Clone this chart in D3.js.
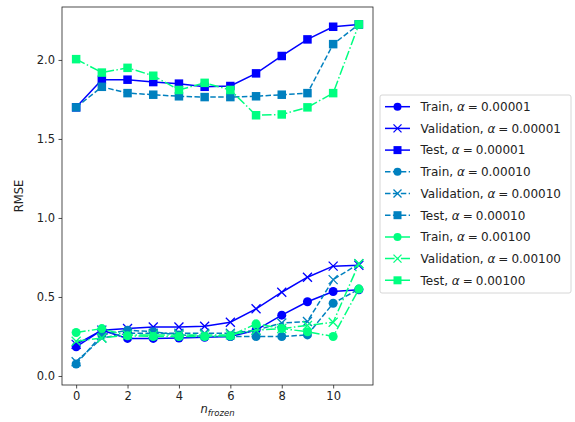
<!DOCTYPE html>
<html>
<head>
<meta charset="utf-8">
<script src="https://cdn.jsdelivr.net/npm/d3@7"></script>
<style>
  body { margin: 0; background: #fff; }
  svg { font-family: "DejaVu Sans", sans-serif; }
</style>
</head>
<body>
<svg id="chart" width="575" height="422"></svg>
<script>
const nFrozen = [0, 1, 2, 3, 4, 5, 6, 7, 8, 9, 10, 11]
const xTicks = [0, 2, 4, 6, 8, 10]
const yTicks = [0.0, 0.5, 1.0, 1.5, 2.0]

const alphas = ['0.00001', '0.00010', '0.00100']
const kinds = ['Train', 'Validation', 'Test']

// RMSE values
const train1 = [0.185, 0.29, 0.238, 0.238, 0.24, 0.245, 0.25, 0.29, 0.385, 0.47, 0.535, 0.545]
const val1 = [0.20, 0.29, 0.30, 0.31, 0.31, 0.315, 0.34, 0.425, 0.53, 0.625, 0.695, 0.70]
const test1 = [1.70, 1.875, 1.875, 1.86, 1.85, 1.83, 1.835, 1.915, 2.025, 2.13, 2.21, 2.225]
const train2 = [0.076, 0.26, 0.29, 0.28, 0.26, 0.25, 0.25, 0.25, 0.25, 0.26, 0.46, 0.55]
const val2 = [0.09, 0.24, 0.27, 0.27, 0.27, 0.27, 0.27, 0.29, 0.335, 0.345, 0.61, 0.71]
const test2 = [1.70, 1.83, 1.79, 1.78, 1.77, 1.765, 1.765, 1.77, 1.78, 1.79, 2.10, 2.225]
const train3 = [0.275, 0.30, 0.255, 0.25, 0.25, 0.25, 0.255, 0.33, 0.30, 0.28, 0.25, 0.55]
const val3 = [0.22, 0.24, 0.26, 0.26, 0.26, 0.26, 0.26, 0.29, 0.30, 0.32, 0.34, 0.71]
const test3 = [2.005, 1.92, 1.95, 1.90, 1.81, 1.855, 1.81, 1.65, 1.655, 1.70, 1.79, 2.225]

const colors = ['#0000ff', '#0080bf', '#00ff80']
const dashes = [null, '5.5,2.4', '9.6,2.4,1.5,2.4']
const markers = ['circle', 'x', 'square']

const series = [
  [train1, val1, test1],
  [train2, val2, test2],
  [train3, val3, test3]
]

const svg = d3.select('#chart')
const mLeft = 62, mRight = 373, mTop = 7, mBottom = 385

const x = d3.scaleLinear().domain([-0.55, 11.55]).range([mLeft, mRight])
const y = d3.scaleLinear().domain([-0.057, 2.335]).range([mBottom, mTop])

// axes
svg.append('g')
  .attr('transform', `translate(0,${mBottom})`)
  .call(d3.axisBottom(x).tickValues(xTicks).tickFormat(d3.format('d')).tickSize(3.5).tickPadding(3.5))
  .call(g => g.select('.domain').remove())

svg.append('g')
  .attr('transform', `translate(${mLeft},0)`)
  .call(d3.axisLeft(y).tickValues(yTicks).tickFormat(d3.format('.1f')).tickSize(3.5).tickPadding(3.5))
  .call(g => g.select('.domain').remove())

svg.selectAll('.tick text').attr('font-size', 11.5).attr('fill', '#222').attr('font-family', 'DejaVu Sans')
svg.selectAll('.tick line').attr('stroke', '#222').attr('stroke-width', 0.8)

const line = d3.line().x((d, i) => x(nFrozen[i])).y(d => y(d))

function drawMarker(g, type, cx, cy, color, s) {
  if (type === 'circle') {
    g.append('circle').attr('cx', cx).attr('cy', cy).attr('r', s / 2).attr('fill', color)
  } else if (type === 'square') {
    g.append('rect').attr('x', cx - s / 2).attr('y', cy - s / 2).attr('width', s).attr('height', s).attr('fill', color)
  } else {
    const h = s / 2
    g.append('path').attr('d', `M${cx - h},${cy - h}L${cx + h},${cy + h}M${cx - h},${cy + h}L${cx + h},${cy - h}`)
      .attr('stroke', color).attr('stroke-width', 1.3).attr('fill', 'none')
  }
}

const plot = svg.append('g')
series.forEach((group, a) => {
  group.forEach((vals, k) => {
    const g = plot.append('g')
    g.append('path')
      .attr('d', line(vals))
      .attr('fill', 'none')
      .attr('stroke', colors[a])
      .attr('stroke-width', 1.5)
      .attr('stroke-dasharray', dashes[a])
    vals.forEach((v, i) => drawMarker(g, markers[k], x(nFrozen[i]), y(v), colors[a], k === 2 ? 8.5 : 9))
  })
})

// frame
svg.append('rect')
  .attr('x', mLeft).attr('y', mTop)
  .attr('width', mRight - mLeft).attr('height', mBottom - mTop)
  .attr('fill', 'none').attr('stroke', '#222').attr('stroke-width', 0.8)

// axis labels
svg.append('text')
  .attr('transform', `translate(23,${(mTop + mBottom) / 2}) rotate(-90)`)
  .attr('text-anchor', 'middle')
  .attr('font-size', 11.5).attr('fill', '#222')
  .text('RMSE')

const xl = svg.append('text')
  .attr('x', (mLeft + mRight) / 2).attr('y', 413)
  .attr('text-anchor', 'middle')
  .attr('font-size', 11.5).attr('fill', '#222').attr('font-style', 'italic')
xl.append('tspan').text('n')
xl.append('tspan').attr('font-size', 8.5).attr('dy', 2.5).text('frozen')

// legend
const leg = svg.append('g').attr('transform', 'translate(380,95)')
leg.append('rect')
  .attr('width', 191).attr('height', 198).attr('rx', 2)
  .attr('fill', '#fff').attr('stroke', '#ccc').attr('stroke-width', 0.8)

let row = 0
series.forEach((group, a) => {
  kinds.forEach((kind, k) => {
    const cy = 11.7 + row * 21.7
    const g = leg.append('g')
    g.append('line')
      .attr('x1', 5).attr('x2', 30).attr('y1', cy).attr('y2', cy)
      .attr('stroke', colors[a]).attr('stroke-width', 1.5)
      .attr('stroke-dasharray', dashes[a])
    drawMarker(g, markers[k], 17.5, cy, colors[a], 8)
    const t = g.append('text')
      .attr('x', 40.5).attr('y', cy + 4.3)
      .attr('font-size', 12).attr('fill', '#222')
    t.append('tspan').text(kind + ', ')
    t.append('tspan').attr('font-style', 'italic').text('α')
    t.append('tspan').attr('dx', 3).text('=')
    t.append('tspan').attr('dx', 3).text(alphas[a])
    row++
  })
})
</script>
</body>
</html>
